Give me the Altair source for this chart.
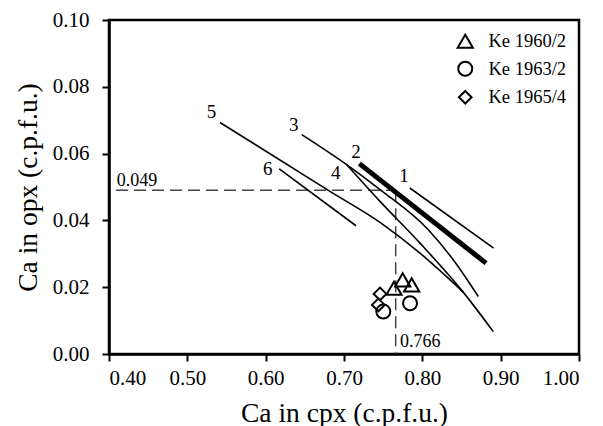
import altair as alt
import pandas as pd

FONT = "Liberation Serif, Times New Roman, serif"

# ---- curves ----
l1_x = [0.784, 0.891]
l1_y = [0.0497, 0.0317]
l2_x = [0.7196, 0.8813]
l2_y = [0.0570, 0.0272]
l3_x = [0.646, 0.7034, 0.746, 0.8076, 0.8404, 0.8714]
l3_y = [0.0657, 0.0567, 0.0492, 0.0372, 0.0279, 0.0172]
l4_x = [0.7034, 0.746, 0.797, 0.8519, 0.8906]
l4_y = [0.0567, 0.0457, 0.0332, 0.0186, 0.0067]
l5_x = [0.5417, 0.6821, 0.746, 0.797, 0.8519]
l5_y = [0.0693, 0.0487, 0.0394, 0.0302, 0.0186]
l6_x = [0.6174, 0.7153]
l6_y = [0.0554, 0.0384]

# curve labels
lab_text = ["1", "2", "3", "4", "5", "6"]
lab_x = [0.7766, 0.7153, 0.636, 0.6894, 0.531, 0.6026]
lab_y = [0.0532, 0.0605, 0.0687, 0.0542, 0.0724, 0.0555]

# samples
series = ["Ke 1960/2", "Ke 1960/2", "Ke 1960/2", "Ke 1963/2", "Ke 1963/2", "Ke 1965/4", "Ke 1965/4"]
sx = [0.7638, 0.7749, 0.7864, 0.7502, 0.7843, 0.7460, 0.7438]
sy = [0.0197, 0.0222, 0.0207, 0.0127, 0.0152, 0.0180, 0.0147]
series_order = ["Ke 1960/2", "Ke 1963/2", "Ke 1965/4"]

# reference cross-hair
cross_x = 0.766
cross_y = 0.049

x_ticks = [0.4, 0.5, 0.6, 0.7, 0.8, 0.9, 1.0]
y_ticks = [0.0, 0.02, 0.04, 0.06, 0.08, 0.10]

rows = []
for lid, xs_, ys_, w in [("1", l1_x, l1_y, 1.6), ("2", l2_x, l2_y, 5.0), ("3", l3_x, l3_y, 1.6),
                         ("4", l4_x, l4_y, 1.6), ("5", l5_x, l5_y, 1.6), ("6", l6_x, l6_y, 1.6)]:
    for i, (a, b) in enumerate(zip(xs_, ys_)):
        rows.append({"id": lid, "x": a, "y": b, "w": w, "o": i})
lines_df = pd.DataFrame(rows)

labels_df = pd.DataFrame({"t": lab_text, "x": lab_x, "y": lab_y})
pts_df = pd.DataFrame({"series": series, "x": sx, "y": sy})
guide_df = pd.DataFrame({"x": [0.409, cross_x], "x2": [cross_x, cross_x],
                         "y": [cross_y, cross_y], "y2": [cross_y, 0.0]})
gtext_df = pd.DataFrame({"t": ["0.049", "0.766"], "x": [0.4098, 0.7715], "y": [0.0502, 0.0022]})

xs = alt.Scale(domain=[0.4, 1.0], nice=False, zero=False)
ys = alt.Scale(domain=[0.0, 0.1], nice=False)

xax = alt.Axis(values=x_ticks, format=".2f", title="Ca in cpx (c.p.f.u.)", grid=False,
               labelPadding=6, titlePadding=11)
yax = alt.Axis(values=y_ticks, format=".2f", title="Ca in opx (c.p.f.u.)", grid=False,
               labelPadding=13, titlePadding=10)

guides = alt.Chart(guide_df).mark_rule(color="#444", strokeWidth=1.5, strokeDash=[12, 6]).encode(
    x=alt.X("x:Q", scale=xs, axis=xax), x2="x2:Q",
    y=alt.Y("y:Q", scale=ys, axis=yax), y2="y2:Q")

gtext = alt.Chart(gtext_df).mark_text(font=FONT, fontSize=18, align="left", baseline="alphabetic",
                                      color="black").encode(
    x=alt.X("x:Q", scale=xs), y=alt.Y("y:Q", scale=ys), text="t:N")

lines = alt.Chart(lines_df).mark_line(color="black", interpolate="monotone").encode(
    x=alt.X("x:Q", scale=xs), y=alt.Y("y:Q", scale=ys), detail="id:N", order="o:Q",
    strokeWidth=alt.StrokeWidth("w:Q", scale=None, legend=None))

labels = alt.Chart(labels_df).mark_text(font=FONT, fontSize=19, align="center", baseline="middle",
                                        color="black").encode(
    x=alt.X("x:Q", scale=xs), y=alt.Y("y:Q", scale=ys), text="t:N")

pts = alt.Chart(pts_df).mark_point(filled=False, color="black", strokeWidth=2, opacity=1).encode(
    x=alt.X("x:Q", scale=xs), y=alt.Y("y:Q", scale=ys),
    shape=alt.Shape("series:N", scale=alt.Scale(domain=series_order,
                                                range=["triangle-up", "circle", "diamond"]),
                    legend=alt.Legend(title=None, orient="top-right")),
    size=alt.Size("series:N", scale=alt.Scale(domain=series_order, range=[230, 160, 180]),
                  legend=alt.Legend(title=None, orient="top-right")))

chart = alt.layer(guides, gtext, lines, labels, pts).properties(
    width=470, height=334,
    autosize="none",
    padding={"left": 109, "top": 20, "right": 24, "bottom": 72},
).configure_view(stroke="black", strokeWidth=2.5).configure_axis(
    labelFont=FONT, titleFont=FONT, labelFontSize=21, titleFontSize=27.5,
    labelColor="black", titleColor="black", titleFontWeight="normal",
    domainColor="black", domainWidth=2.5, tickColor="black", tickWidth=2, tickSize=7,
).configure_legend(
    labelFont=FONT, labelFontSize=18.5, labelColor="black", symbolStrokeColor="black",
    symbolStrokeWidth=2, symbolFillColor="transparent", labelOffset=14, rowPadding=5.5,
    offset=12, padding=0,
)

chart.save("out.html", embed_options={"renderer": "svg", "actions": False})
